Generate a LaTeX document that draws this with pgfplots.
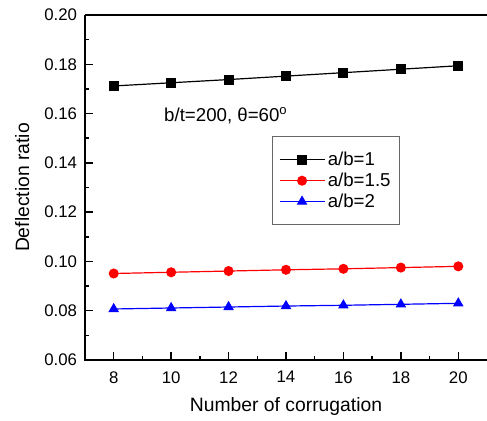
\documentclass[border=0pt]{standalone}
\usepackage{pgfplots}
\pgfplotsset{compat=1.18}
\usepackage{fontspec}
\setmainfont{Liberation Sans}

\begin{document}
\begin{tikzpicture}
\begin{axis}[
    scale only axis,
    width=301.5pt, height=258.75pt,
    xmin=7, xmax=21,
    ymin=0.06, ymax=0.20,
    xtick={8,10,...,20},
    ytick={0.06,0.08,...,0.201},
    minor x tick num=1,
    minor y tick num=1,
    tick align=inside,
    xtick pos=bottom, ytick pos=left,
    major tick length=6pt, minor tick length=3.2pt,
    tick style={black, line width=1.1pt},
    axis line style={draw=none},
    /pgf/number format/assume math mode=true,
    yticklabel style={/pgf/number format/fixed, /pgf/number format/fixed zerofill, /pgf/number format/precision=2, xshift=-2.5pt},
    xticklabel style={yshift=-5pt},
    ticklabel style={font=\fontsize{12.6}{14}\selectfont},
    label style={font=\fontsize{14.5}{16}\selectfont},
    xlabel={Number of corrugation},
    ylabel={Deflection ratio},
    xlabel style={at={(axis description cs:0.5,0)}, anchor=base, yshift=-39pt},
    ylabel style={at={(axis description cs:0,0.5)}, anchor=center, yshift=47pt},
    legend style={at={(rel axis cs:0.465,0.649)}, anchor=north west,
        font=\fontsize{14}{16}\selectfont, draw=black!60, line width=1pt,
        inner xsep=4.75pt, inner ysep=9.5pt, row sep=0pt,
        nodes={inner sep=2pt}},
    legend cell align=left,
    legend image post style={line width=0.9pt},
    legend image code/.code={\draw[mark repeat=2,mark phase=2] plot coordinates {(0pt,0pt) (16.9pt,0pt) (33.75pt,0pt)};},
    clip=false,
]
\draw[line width=1.5pt] (rel axis cs:0,1) -- (rel axis cs:0,0) -- (rel axis cs:1,0);
\draw[line width=1.5pt] (rel axis cs:0,1) -- (rel axis cs:1,1);
\addplot[black, line width=0.9pt, mark=square*, mark size=3.3pt] coordinates {
(8,0.1712) (10,0.1725) (12,0.1738) (14,0.1752) (16,0.1766) (18,0.1780) (20,0.1794)};
\addlegendentry{a/b=1}
\addplot[red, line width=0.9pt, mark=*, mark size=3.3pt] coordinates {
(8,0.0951) (10,0.0956) (12,0.0961) (14,0.0966) (16,0.0970) (18,0.0975) (20,0.0980)};
\addlegendentry{a/b=1.5}
\addplot[blue, line width=0.9pt, mark=triangle*, mark size=3.7pt] coordinates {
(8,0.0807) (10,0.0811) (12,0.0815) (14,0.0819) (16,0.0822) (18,0.0826) (20,0.0830)};
\addlegendentry{a/b=2}
\node[anchor=base west, inner sep=0pt, font=\fontsize{14}{16}\selectfont] at (axis cs:9.75,0.1566) {b/t=200, θ=60\textsuperscript{o}};
\end{axis}
\pgfresetboundingbox
\path[use as bounding box] (-63.75pt,-45.75pt) rectangle (301.5pt,270pt);
\end{tikzpicture}
\end{document}
